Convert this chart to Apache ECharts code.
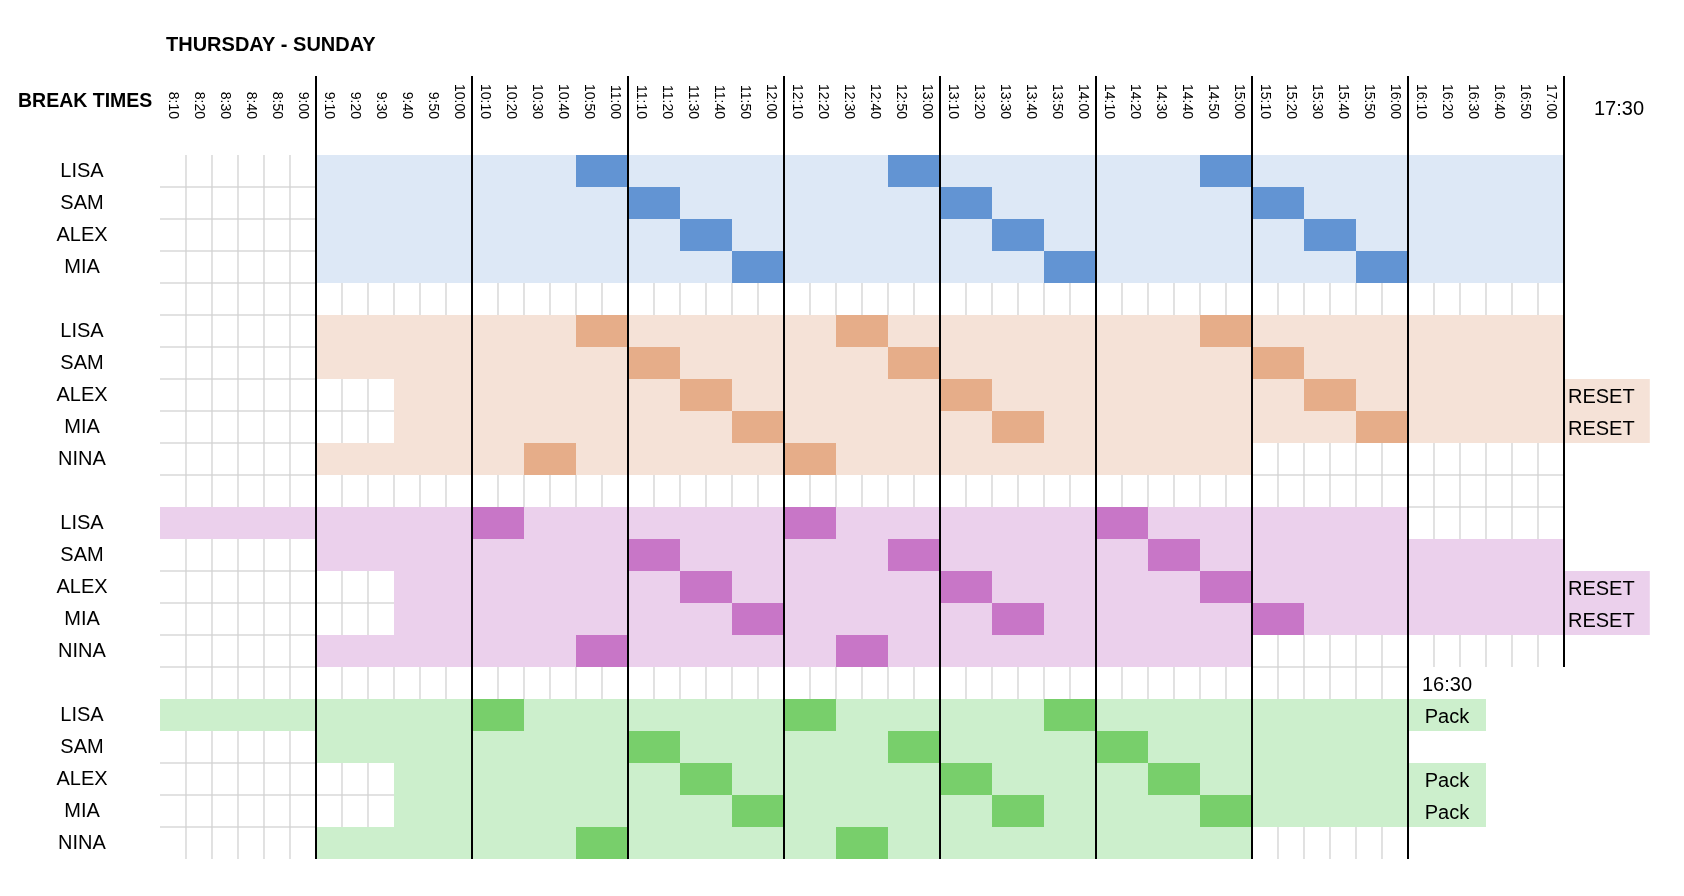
<!DOCTYPE html>
<html>
<head>
<meta charset="utf-8">
<script src="https://cdn.jsdelivr.net/npm/echarts@6/dist/echarts.min.js"></script>
<style>
html,body{margin:0;padding:0;background:#fff;}
#chart{width:1684px;height:896px;}
</style>
</head>
<body>
<div id="chart"></div>
<script>
// ---------- DATA ----------
const times = ['8:10','8:20','8:30','8:40','8:50','9:00',
  '9:10','9:20','9:30','9:40','9:50','10:00',
  '10:10','10:20','10:30','10:40','10:50','11:00',
  '11:10','11:20','11:30','11:40','11:50','12:00',
  '12:10','12:20','12:30','12:40','12:50','13:00',
  '13:10','13:20','13:30','13:40','13:50','14:00',
  '14:10','14:20','14:30','14:40','14:50','15:00',
  '15:10','15:20','15:30','15:40','15:50','16:00',
  '16:10','16:20','16:30','16:40','16:50','17:00'];

const rowNames = ['LISA','SAM','ALEX','MIA','',
  'LISA','SAM','ALEX','MIA','NINA','',
  'LISA','SAM','ALEX','MIA','NINA','',
  'LISA','SAM','ALEX','MIA','NINA'];

// shifts: [row, first slot, last slot]
const shiftsBlue = [[0,'9:10','17:00'],[1,'9:10','17:00'],[2,'9:10','17:00'],[3,'9:10','17:00']];
const shiftsOrange = [[5,'9:10','17:00'],[6,'9:10','17:00'],[7,'9:40','17:00'],[8,'9:40','17:00'],[9,'9:10','15:00']];
const shiftsPurple = [[11,'8:10','16:00'],[12,'9:10','17:00'],[13,'9:40','17:00'],[14,'9:40','17:00'],[15,'9:10','15:00']];
const shiftsGreen = [[17,'8:10','16:00'],[18,'9:10','16:00'],[19,'9:40','16:00'],[20,'9:40','16:00'],[21,'9:10','15:00']];

// breaks: [row, first slot, last slot]
const breaksBlue = [[0,'10:50','11:00'],[0,'12:50','13:00'],[0,'14:50','15:00'],
  [1,'11:10','11:20'],[1,'13:10','13:20'],[1,'15:10','15:20'],
  [2,'11:30','11:40'],[2,'13:30','13:40'],[2,'15:30','15:40'],
  [3,'11:50','12:00'],[3,'13:50','14:00'],[3,'15:50','16:00']];
const breaksOrange = [[5,'10:50','11:00'],[5,'12:30','12:40'],[5,'14:50','15:00'],
  [6,'11:10','11:20'],[6,'12:50','13:00'],[6,'15:10','15:20'],
  [7,'11:30','11:40'],[7,'13:10','13:20'],[7,'15:30','15:40'],
  [8,'11:50','12:00'],[8,'13:30','13:40'],[8,'15:50','16:00'],
  [9,'10:30','10:40'],[9,'12:10','12:20']];
const breaksPurple = [[11,'10:10','10:20'],[11,'12:10','12:20'],[11,'14:10','14:20'],
  [12,'11:10','11:20'],[12,'12:50','13:00'],[12,'14:30','14:40'],
  [13,'11:30','11:40'],[13,'13:10','13:20'],[13,'14:50','15:00'],
  [14,'11:50','12:00'],[14,'13:30','13:40'],[14,'15:10','15:20'],
  [15,'10:50','11:00'],[15,'12:30','12:40']];
const breaksGreen = [[17,'10:10','10:20'],[17,'12:10','12:20'],[17,'13:50','14:00'],
  [18,'11:10','11:20'],[18,'12:50','13:00'],[18,'14:10','14:20'],
  [19,'11:30','11:40'],[19,'13:10','13:20'],[19,'14:30','14:40'],
  [20,'11:50','12:00'],[20,'13:30','13:40'],[20,'14:50','15:00'],
  [21,'10:50','11:00'],[21,'12:30','12:40']];

// notes
const resetNotes = [[7,'RESET'],[8,'RESET'],[13,'RESET'],[14,'RESET']];
const packNotes = [[17,'Pack'],[19,'Pack'],[20,'Pack']];
const timeNotes = [[16,'16:30']];
const noteSpan = ['16:10','16:30'];
const endTimeLabel = '17:30';
const titleText = 'THURSDAY - SUNDAY';
const sideTitle = 'BREAK TIMES';
// hour divider lines: [column boundary, last row reached]
const hourDividers = [[6,21],[12,21],[18,21],[24,21],[30,21],[36,21],[42,21],[48,21],[54,15]];
// area without gridlines: [firstRow, lastRow, first slot, last slot]
const plainArea = [16,21,'16:10','17:00'];

// ---------- STYLE ----------
const COLORS = {
  blue:['#DDE8F6','#6294D3'],
  orange:['#F5E2D7','#E6AD89'],
  purple:['#EBD0EC','#C876C7'],
  green:['#CCEFCC','#78CF6B']
};
const FONT = '"Liberation Sans", Arial, sans-serif';
const NCOL = times.length;
const NROW = rowNames.length;
const EXTRA_END = NCOL + 3.3;

function ci(t){ return times.indexOf(t); }

// ---------- BUILD CELLS ----------
const cellItems = [];
const state = [];
for (let r=0;r<NROW;r++){ state.push(new Array(NCOL).fill(0)); }
const rowColor = {};
function addShifts(list, key){
  list.forEach(s => {
    const a = ci(s[1]), b = ci(s[2]) + 1;
    cellItems.push({v:[a,b,s[0]], color:COLORS[key][0]});
    rowColor[s[0]] = COLORS[key][0];
    for (let c=a;c<b;c++) state[s[0]][c] = 1;
  });
}
function addBreaks(list, key){
  list.forEach(s => {
    cellItems.push({v:[ci(s[1]), ci(s[2])+1, s[0]], color:COLORS[key][1]});
  });
}
addShifts(shiftsBlue,'blue'); addShifts(shiftsOrange,'orange');
addShifts(shiftsPurple,'purple'); addShifts(shiftsGreen,'green');
addBreaks(breaksBlue,'blue'); addBreaks(breaksOrange,'orange');
addBreaks(breaksPurple,'purple'); addBreaks(breaksGreen,'green');
for (let r=plainArea[0]; r<=plainArea[1]; r++){
  for (let c=ci(plainArea[2]); c<=ci(plainArea[3]); c++) state[r][c] = 2;
}
resetNotes.forEach(n => cellItems.push({v:[NCOL, EXTRA_END, n[0]], color:rowColor[n[0]], text:n[1], align:'left'}));
packNotes.forEach(n => cellItems.push({v:[ci(noteSpan[0]), ci(noteSpan[1])+1, n[0]], color:COLORS.green[0], text:n[1], align:'center'}));
timeNotes.forEach(n => cellItems.push({v:[ci(noteSpan[0]), ci(noteSpan[1])+1, n[0]], color:null, text:n[1], align:'center'}));

// gridline segments between two plain white cells
const gridSegs = [];
for (let r=0;r<NROW;r++){
  for (let c=1;c<NCOL;c++){
    if (c % 6 === 0) continue;
    if (state[r][c-1]===0 && state[r][c]===0) gridSegs.push([0,c,r]);
  }
}
for (let r=1;r<NROW;r++){
  for (let c=0;c<NCOL;c++){
    if (state[r-1][c]===0 && state[r][c]===0) gridSegs.push([1,c,r]);
  }
}

// ---------- CHART ----------
const GRID_TOP = 155, HEADER_H = 79;
const chart = echarts.init(document.getElementById('chart'));
chart.setOption({
  animation:false,
  backgroundColor:'#fff',
  grid:{left:160, top:GRID_TOP, width:1404, height:704, containLabel:false},
  xAxis:[
    {type:'value', min:0, max:NCOL, show:false},
    {type:'category', data:times, position:'top', boundaryGap:true,
      axisLine:{show:false}, axisTick:{show:false}, splitLine:{show:false},
      axisLabel:{interval:0, rotate:90, margin:36, fontSize:14, color:'#000', fontFamily:FONT}}
  ],
  yAxis:[
    {type:'category', data:rowNames, inverse:true,
      axisLine:{show:false}, axisTick:{show:false}, splitLine:{show:false},
      axisLabel:{interval:0, align:'center', margin:78, fontSize:20, color:'#000', fontFamily:FONT, padding:[6,0,0,0]}}
  ],
  graphic:[
    {type:'text', x:166, y:45, style:{text:titleText, fontSize:20, fontWeight:'bold', fontFamily:FONT, fill:'#000', verticalAlign:'middle'}},
    {type:'text', x:18, y:102, style:{text:sideTitle, fontSize:19.5, fontWeight:'bold', fontFamily:FONT, fill:'#000', verticalAlign:'middle'}},
    {type:'text', x:1619, y:109, style:{text:endTimeLabel, fontSize:20, fontFamily:FONT, fill:'#000', align:'center', verticalAlign:'middle'}}
  ],
  series:[
    {
      type:'custom', name:'grid', xAxisIndex:0, yAxisIndex:0, clip:false, silent:true, z:1,
      encode:{x:1, y:2},
      data:gridSegs,
      renderItem:function(params, api){
        const t = api.value(0), c = api.value(1), r = api.value(2);
        const h = api.size([0,1])[1];
        const p = api.coord([c, r]);
        const st = {stroke:'#d2d2d2', lineWidth:1.3};
        if (t === 0){
          return {type:'line', shape:{x1:p[0], y1:p[1]-h/2, x2:p[0], y2:p[1]+h/2}, style:st};
        }
        const p2 = api.coord([c+1, r]);
        return {type:'line', shape:{x1:p[0], y1:p[1]-h/2, x2:p2[0], y2:p2[1]-h/2}, style:st};
      }
    },
    {
      type:'custom', name:'cells', xAxisIndex:0, yAxisIndex:0, clip:false, silent:true, z:2,
      encode:{x:[0,1], y:2},
      data:cellItems.map(c => c.v),
      renderItem:function(params, api){
        const item = cellItems[params.dataIndex];
        const row = api.value(2);
        const p0 = api.coord([api.value(0), row]);
        const p1 = api.coord([api.value(1), row]);
        const h = api.size([0,1])[1];
        const children = [];
        if (item.color){
          children.push({type:'rect', shape:{x:p0[0], y:p0[1]-h/2, width:p1[0]-p0[0], height:h}, style:{fill:item.color}});
        }
        if (item.text){
          children.push({type:'text', x: item.align==='left' ? p0[0]+4 : (p0[0]+p1[0])/2, y:p0[1]+2,
            style:{text:item.text, fontSize:20, fontFamily:FONT, fill:'#000', align:item.align, verticalAlign:'middle'}});
        }
        return {type:'group', children:children};
      }
    },
    {
      type:'custom', name:'hours', xAxisIndex:0, yAxisIndex:0, clip:false, silent:true, z:3,
      encode:{x:0, y:1},
      data:hourDividers,
      renderItem:function(params, api){
        const c = api.value(0), last = api.value(1);
        const h = api.size([0,1])[1];
        const top = api.coord([c, 0]);
        const bot = api.coord([c, last]);
        return {type:'line', shape:{x1:top[0], y1:top[1]-h/2-HEADER_H, x2:bot[0], y2:bot[1]+h/2}, style:{stroke:'#000', lineWidth:2}};
      }
    }
  ]
});
</script>
</body>
</html>
